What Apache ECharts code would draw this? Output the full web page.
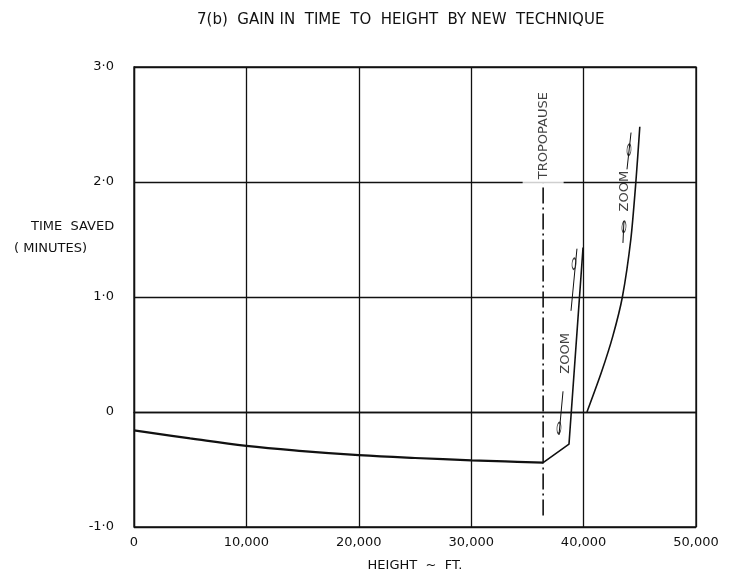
<!DOCTYPE html>
<html>
<head>
<meta charset="utf-8">
<script src="https://cdn.jsdelivr.net/npm/echarts@6/dist/echarts.min.js"></script>
<style>
  html, body { margin: 0; padding: 0; background: #fff; }
  #chart { width: 732px; height: 577px; }
</style>
</head>
<body>
<div id="chart"></div>
<script>
// height (ft) vs time saved (minutes)
var climbCurve = [[0, -0.16], [5000, -0.23], [10000, -0.295], [15000, -0.34], [20000, -0.375],
  [25000, -0.40], [30000, -0.42], [33000, -0.43], [36400, -0.44]];
var zoomBranch1 = [[36400, -0.44], [38700, -0.28], [39950, 1.43]];
var zoomBranch2 = [[40300, 0], [41600, 0.35], [42600, 0.66], [43450, 1.0], [44200, 1.5], [44650, 2.0], [45000, 2.48]];

var tropopauseHeight = 36400;
var tropopauseSpan = [-0.9, 2.0];

// little "zoom" arrows drawn beside the two zoom branches
var zoomArrowA1 = [[37810, -0.20], [38170, 0.18]];
var zoomArrowA2 = [[38880, 0.88], [39410, 1.42]];
var zoomGlidersA = [[37810, -0.14], [39150, 1.29]];
var zoomTextA = [38430, 0.51];
var zoomArrowB1 = [[43500, 1.47], [43590, 1.66]];
var zoomArrowB2 = [[43860, 2.11], [44220, 2.43]];
var zoomGlidersB = [[43590, 1.61], [44040, 2.28]];
var zoomTextB = [43680, 1.92];

var xTickLabels = ['0', '10,000', '20,000', '30,000', '40,000', '50,000'];
var yTickLabels = { '-1': '-1·0', '0': '0', '1': '1·0', '2': '2·0', '3': '3·0' };

var ink = '#111';
var font = 'DejaVu Sans';

var chart = echarts.init(document.getElementById('chart'));

function strokeLine(data, width) {
  return {
    type: 'line', data: data, symbol: 'none', silent: true,
    lineStyle: { color: ink, width: width }
  };
}

var option = {
  animation: false,
  backgroundColor: '#fff',
  title: [
    {
      text: '7(b)  GAIN IN  TIME  TO  HEIGHT  BY NEW  TECHNIQUE',
      left: 192, top: 8,
      textStyle: { fontFamily: font, fontSize: 15, fontWeight: 'normal', color: ink }
    },
    {
      text: 'TIME  SAVED',
      left: 26, top: 215,
      textStyle: { fontFamily: font, fontSize: 13, fontWeight: 'normal', color: ink }
    },
    {
      text: '( MINUTES)',
      left: 9, top: 237,
      textStyle: { fontFamily: font, fontSize: 13, fontWeight: 'normal', color: ink }
    }
  ],
  grid: {
    left: 134, right: 36, top: 67, bottom: 49,
    show: true, borderColor: ink, borderWidth: 1.3
  },
  xAxis: {
    type: 'value', min: 0, max: 50000, interval: 10000,
    name: 'HEIGHT  ~  FT.', nameLocation: 'middle', nameGap: 32,
    nameTextStyle: { fontFamily: font, fontSize: 13, color: ink },
    axisLine: { show: true, lineStyle: { color: ink, width: 1.3 } },
    axisTick: { show: false },
    axisLabel: {
      fontFamily: font, fontSize: 13, color: ink, margin: 9,
      formatter: function (v) { return xTickLabels[Math.round(v / 10000)]; }
    },
    splitLine: { show: true, lineStyle: { color: ink, width: 1.3 } }
  },
  yAxis: {
    type: 'value', min: -1, max: 3, interval: 1,
    axisLine: { show: true, lineStyle: { color: ink, width: 1.3 } },
    axisTick: { show: false },
    axisLabel: {
      fontFamily: font, fontSize: 13, color: ink, margin: 20,
      formatter: function (v) { return yTickLabels[String(Math.round(v))]; }
    },
    splitLine: { show: true, lineStyle: { color: ink, width: 1.3 } }
  },
  series: [
    Object.assign(strokeLine(climbCurve, 2.2), { smooth: 0.4 }),
    strokeLine(zoomBranch1, 1.6),
    Object.assign(strokeLine(zoomBranch2, 1.6), { smooth: 0.25 }),
    // tropopause marker
    {
      type: 'line', symbol: 'none', silent: true,
      data: [[tropopauseHeight, tropopauseSpan[0]], [tropopauseHeight, tropopauseSpan[1]]],
      lineStyle: { color: ink, width: 1.6, type: [16, 4, 2, 4] }
    },
    {
      type: 'scatter', symbolSize: 0, silent: true, z: 5,
      data: [[tropopauseHeight, 2.39]],
      label: {
        show: true, position: 'inside', rotate: 90, formatter: 'TROPOPAUSE',
        fontFamily: font, fontSize: 13, color: ink,
        backgroundColor: '#fff', padding: [14, 3, 14, 6]
      }
    },
    strokeLine(zoomArrowA1, 1),
    strokeLine(zoomArrowA2, 1),
    strokeLine(zoomArrowB1, 1),
    strokeLine(zoomArrowB2, 1),
    {
      type: 'scatter', silent: true, symbol: 'circle', symbolSize: [4, 11],
      symbolRotate: -4,
      itemStyle: { color: '#fff', borderColor: ink, borderWidth: 1.2 },
      data: zoomGlidersA.concat(zoomGlidersB)
    },
    {
      type: 'scatter', symbolSize: 0, silent: true,
      data: [zoomTextA, zoomTextB],
      label: {
        show: true, position: 'inside', rotate: 90, formatter: 'ZOOM',
        fontFamily: font, fontSize: 13, color: ink
      }
    }
  ]
};

chart.setOption(option);
</script>
</body>
</html>
